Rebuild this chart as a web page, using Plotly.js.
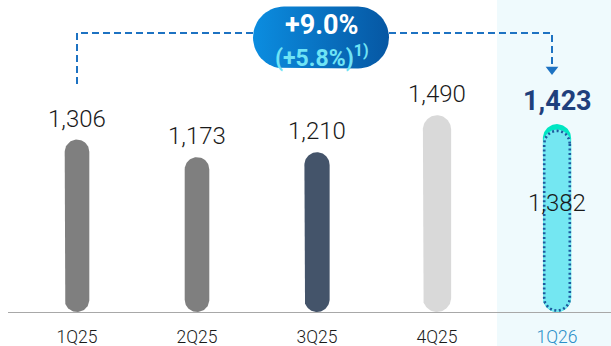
<!DOCTYPE html>
<html>
<head>
<meta charset="utf-8">
<script src="https://cdn.plot.ly/plotly-3.0.1.min.js"></script>
<style>html,body{margin:0;padding:0;background:#fff;}#chart{width:611px;height:346px;}</style>
</head>
<body>
<div id="chart"></div>
<script>
// ---- data ----
const categories = ['1Q25', '2Q25', '3Q25', '4Q25', '1Q26'];
const values = [1306, 1173, 1210, 1490, 1423];
const adjustedLabelCategory = '1Q26';
const adjustedValue = 1382;
const growthText = '+9.0%';
const adjustedGrowthText = '(+5.8%)<sup>1)</sup>';

// ---- styles ----
const barColors = ['#7f7f7f', '#7f7f7f', '#44546a', '#d9d9d9', '#00e6c3'];
const barWidths = [0.205, 0.205, 0.21, 0.235, 0.235];
const adjColor = '#74e7f2';
const accent = '#1d72c2';
const W = 611, H = 346;
const M = {l: 8, r: 0, t: 0, b: 34};
const plotW = W - M.l - M.r, plotH = H - M.t - M.b;
const xRange = [-0.575, 4.45];
const yRange = [0, 2363];
const pxPerX = plotW / (xRange[1] - xRange[0]);
const pxPerY = plotH / (yRange[1] - yRange[0]);
const xs = categories.map((c, i) => i);
const lastIdx = categories.indexOf(adjustedLabelCategory);
const fmt = v => v.toLocaleString('en-US');
const toPxX = i => M.l + (i - xRange[0]) * pxPerX;

// pill outline built from a category index, value and width, in axis units
function pillPath(xc, v, w, insetPx) {
  const inset = insetPx || 0;
  const rPx = w / 2 * pxPerX - inset;
  const rX = rPx / pxPerX, rY = rPx / pxPerY;
  const yTopC = v - inset / pxPerY - rY;
  const yBotC = inset / pxPerY + rY;
  const ox = [], oy = [];
  const n = 40;
  for (let k = 0; k <= n; k++) { const a = Math.PI * k / n; ox.push(xc + rX * Math.cos(a)); oy.push(yTopC + rY * Math.sin(a)); }
  for (let k = 0; k <= n; k++) { const a = Math.PI + Math.PI * k / n; ox.push(xc + rX * Math.cos(a)); oy.push(yBotC + rY * Math.sin(a)); }
  ox.push(ox[0]); oy.push(oy[0]);
  return {x: ox, y: oy};
}

const traces = [];
values.forEach((v, i) => {
  const p = pillPath(xs[i], v, barWidths[i], 0);
  traces.push({type: 'scatter', mode: 'lines', x: p.x, y: p.y, fill: 'toself', fillcolor: barColors[i],
    line: {width: 0, color: barColors[i]}, hoverinfo: 'skip', showlegend: false});
});
(function () {
  const p = pillPath(lastIdx, adjustedValue, barWidths[lastIdx], 0);
  traces.push({type: 'scatter', mode: 'lines', x: p.x, y: p.y, fill: 'toself', fillcolor: adjColor,
    line: {width: 0, color: adjColor}, hoverinfo: 'skip', showlegend: false});
  const q = pillPath(lastIdx, adjustedValue, barWidths[lastIdx], 1.3);
  traces.push({type: 'scatter', mode: 'lines', x: q.x, y: q.y, hoverinfo: 'skip', showlegend: false,
    line: {color: '#1c5a9e', width: 2.6, dash: '2px,2.6px'}});
})();

// bracket (pixel axes x2/y2)
const xL = toPxX(0), xR = toPxX(lastIdx) - 5;
traces.push({type: 'scatter', mode: 'lines', xaxis: 'x2', yaxis: 'y2', hoverinfo: 'skip', showlegend: false,
  x: [xL, xL, xR, xR], y: [84, 33, 33, 64], line: {color: accent, width: 2, dash: '7px,4px'}});
traces.push({type: 'scatter', mode: 'markers', xaxis: 'x2', yaxis: 'y2', hoverinfo: 'skip', showlegend: false,
  x: [xR], y: [69.5], marker: {symbol: 'triangle-down', size: 11, color: accent}});

// bubble
(function () {
  const cx = 321, cy = 37.5, hw = 68, r = 31;
  const bx = [], by = [];
  const n = 30;
  for (let k = 0; k <= n; k++) { const a = -Math.PI / 2 + Math.PI * k / n; bx.push(cx + hw - r + r * Math.cos(a)); by.push(cy + r * Math.sin(a)); }
  for (let k = 0; k <= n; k++) { const a = Math.PI / 2 + Math.PI * k / n; bx.push(cx - hw + r + r * Math.cos(a)); by.push(cy + r * Math.sin(a)); }
  bx.push(bx[0]); by.push(by[0]);
  traces.push({type: 'scatter', mode: 'lines', xaxis: 'x2', yaxis: 'y2', hoverinfo: 'skip', showlegend: false,
    x: bx, y: by, fill: 'toself', line: {width: 0, color: 'rgba(0,0,0,0)'}, fillcolor: '#0873c7',
    fillgradient: {type: 'horizontal', colorscale: [[0, '#0b8de0'], [1, '#0657a3']]}});
})();

const labelFont = {family: 'Roboto, sans-serif', size: 24, color: '#1a1a1a', weight: 300};
const annotations = [];
values.forEach((v, i) => {
  const isLast = i === lastIdx;
  annotations.push({x: i, y: v, xref: 'x', yref: 'y', text: fmt(v), showarrow: false,
    yanchor: 'middle', yshift: isLast ? 23 : 21,
    font: isLast ? {family: 'Roboto, sans-serif', size: 27, color: '#1f3f7c', weight: 700} : labelFont});
});
annotations.push({x: lastIdx, y: adjustedValue / 2, xref: 'x', yref: 'y', text: fmt(adjustedValue), showarrow: false,
  yanchor: 'middle', yshift: 18, font: labelFont});
annotations.push({x: 322, y: 25, xref: 'x2', yref: 'y2', text: growthText, showarrow: false,
  font: {family: 'Roboto, sans-serif', size: 27, color: '#ffffff', weight: 700}});
annotations.push({x: 322, y: 56, xref: 'x2', yref: 'y2', text: adjustedGrowthText, showarrow: false,
  font: {family: 'Roboto, sans-serif', size: 23, color: '#6fe3f5', weight: 700}});

const layout = {
  width: W, height: H, margin: M,
  paper_bgcolor: '#ffffff', plot_bgcolor: 'rgba(0,0,0,0)',
  showlegend: false,
  xaxis: {range: xRange, tickvals: xs,
    ticktext: categories.map((c, i) => i === lastIdx ? '<span style="color:#2b8fc9">' + c + '</span>' : c),
    showgrid: false, zeroline: false, showline: true, linecolor: '#a8a8a8', linewidth: 1,
    ticks: '', ticklabelstandoff: 9, tickfont: {family: 'Roboto, sans-serif', size: 17.5, color: '#1a1a1a', weight: 300}, fixedrange: true},
  yaxis: {range: yRange, visible: false, fixedrange: true},
  xaxis2: {range: [M.l, W - M.r], overlaying: 'x', anchor: 'y2', visible: false},
  yaxis2: {range: [plotH, 0], overlaying: 'y', anchor: 'x2', visible: false},
  shapes: [{type: 'rect', xref: 'x', yref: 'paper', x0: lastIdx - 0.5, x1: lastIdx + 1, y0: -0.2, y1: 1,
    fillcolor: '#effafd', line: {width: 0}, layer: 'below'}],
  annotations: annotations
};

Plotly.newPlot('chart', traces, layout, {staticPlot: true, displayModeBar: false});
</script>
</body>
</html>
